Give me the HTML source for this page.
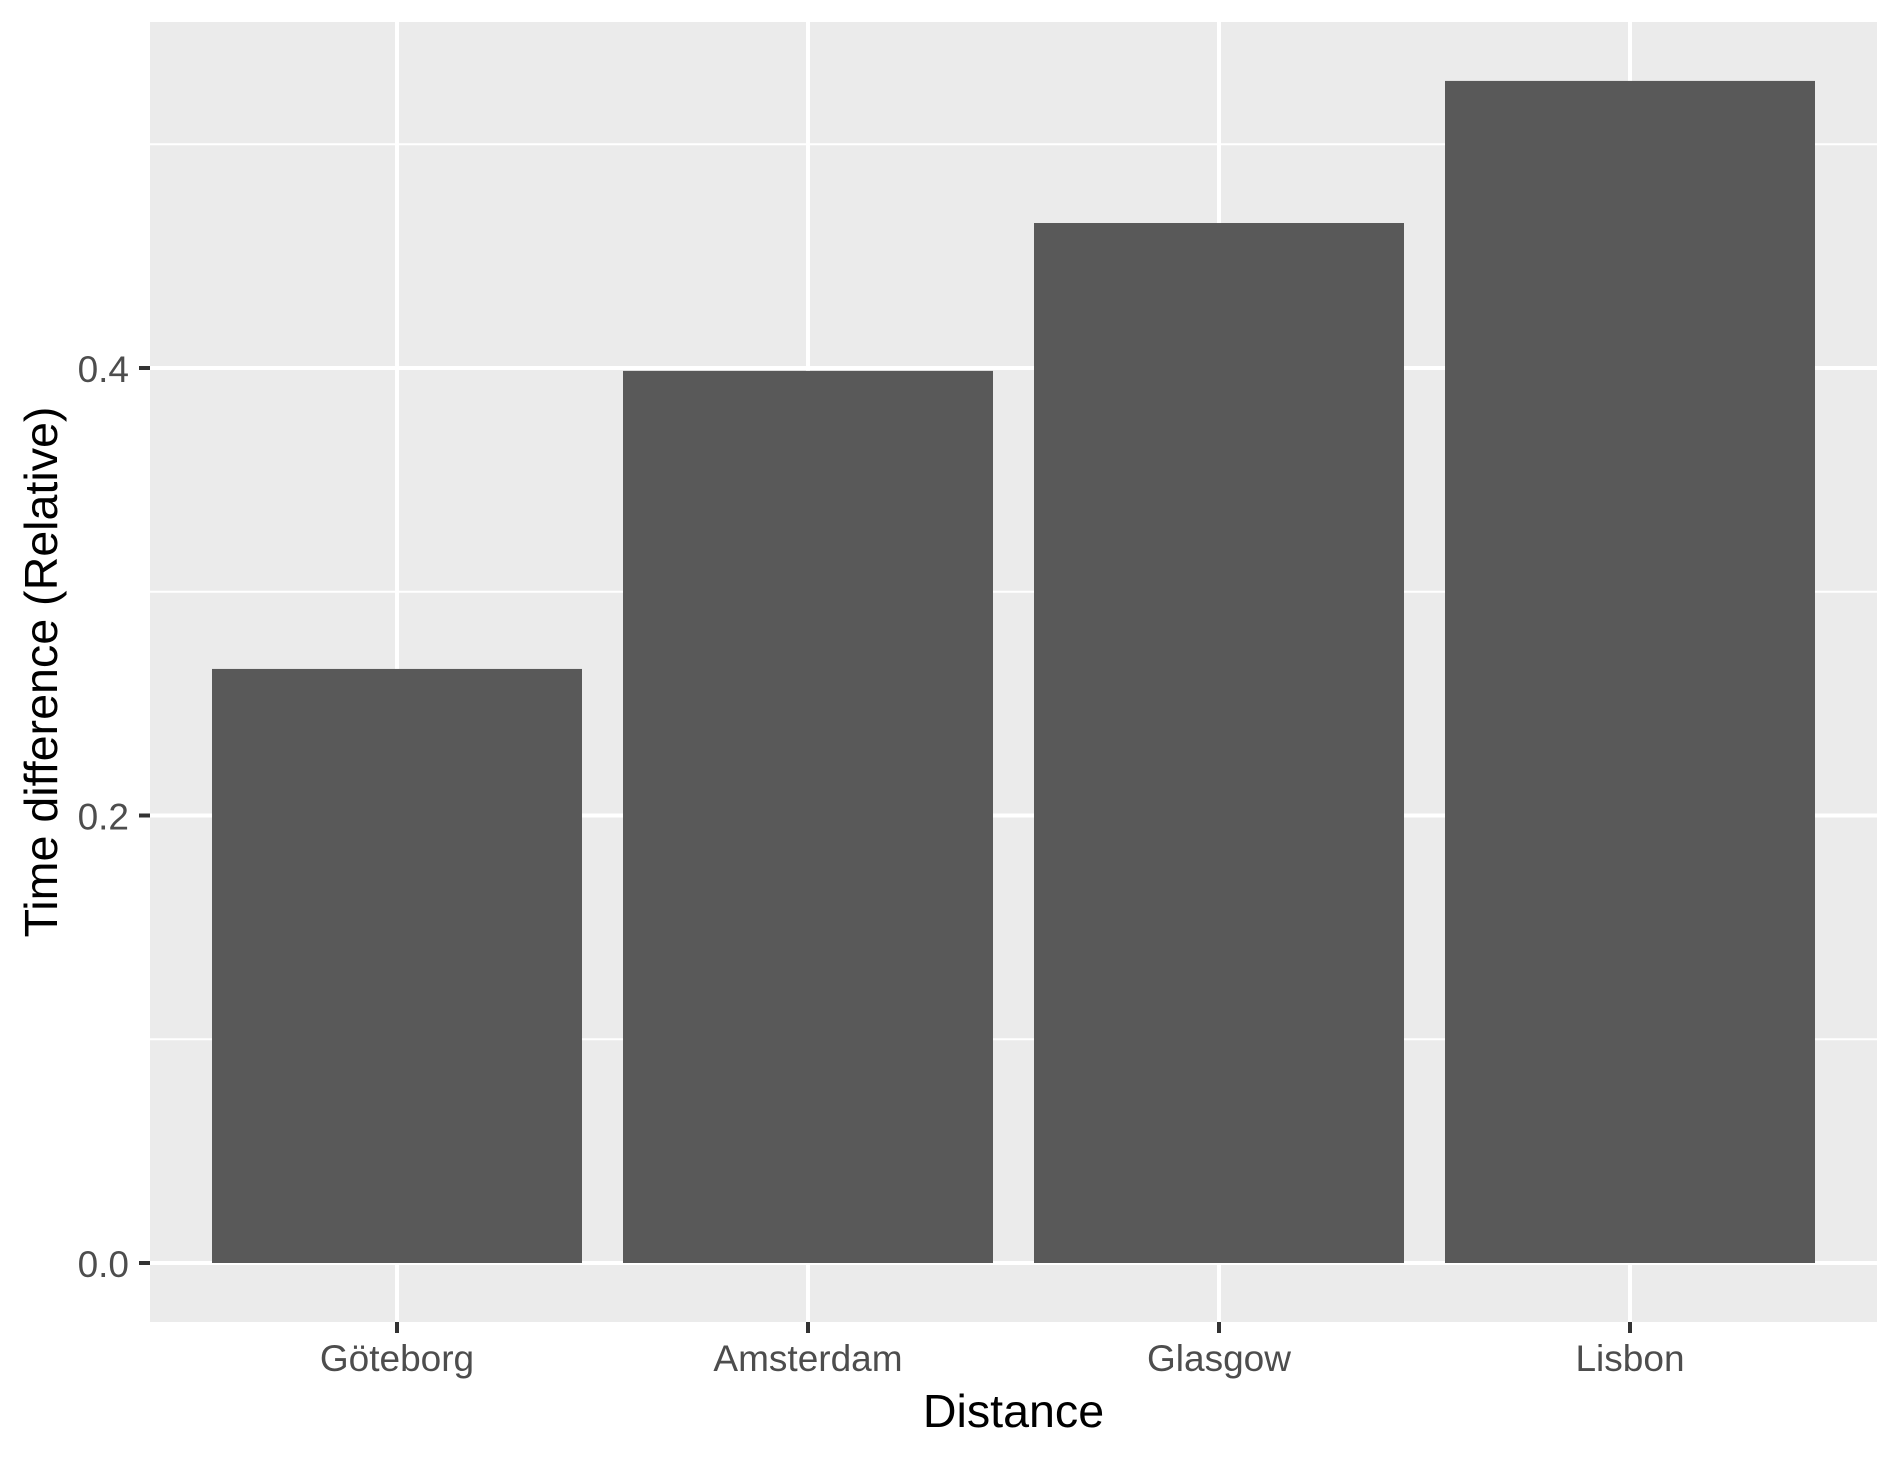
<!DOCTYPE html>
<html>
<head>
<meta charset="utf-8">
<title>Time difference by distance</title>
<style>
html,body{margin:0;padding:0;background:#fff;width:1900px;height:1459px;overflow:hidden}
svg{display:block}
text{font-family:"Liberation Sans",Arial,sans-serif}
</style>
</head>
<body>
<svg id="chart" xmlns="http://www.w3.org/2000/svg" width="1900" height="1459" viewBox="0 0 1900 1459"></svg>
<script>
const categories = ["Göteborg", "Amsterdam", "Glasgow", "Lisbon"];
const values = [0.2655, 0.3987, 0.4648, 0.5283];
const majorTicks = [0, 0.2, 0.4];
const minorTicks = [0.1, 0.3, 0.5];
const tickLabels = ["0.0", "0.2", "0.4"];
const xTitle = "Distance";
const yTitle = "Time difference (Relative)";

const svg = document.getElementById('chart');
const NS = 'http://www.w3.org/2000/svg';
const panel = {left: 150, right: 1877, top: 22, bottom: 1322};
const bandStep = 411, firstCenter = 397, barWidth = 370;
const yZero = 1263, yPerUnit = 2237.5;

function xScale(i) { return firstCenter + i * bandStep; }
function yScale(v) { return yZero - v * yPerUnit; }
function make(tag, attrs, text) {
  const el = document.createElementNS(NS, tag);
  for (const k in attrs) el.setAttribute(k, attrs[k]);
  if (text !== undefined) el.textContent = text;
  svg.appendChild(el);
  return el;
}

let el = make('rect', {x: panel.left, y: panel.top, width: panel.right - panel.left, height: panel.bottom - panel.top, fill: '#EBEBEB'});



minorTicks.forEach(function (v) {
  const g = make('line', {x1: panel.left, x2: panel.right, y1: yScale(v), y2: yScale(v), stroke: '#fff', 'stroke-width': 2});
  
  
});
majorTicks.forEach(function (v) {
  const g = make('line', {x1: panel.left, x2: panel.right, y1: yScale(v), y2: yScale(v), stroke: '#fff', 'stroke-width': 4});
  
  
});
categories.forEach(function (c, i) {
  const g = make('line', {x1: xScale(i), x2: xScale(i), y1: panel.top, y2: panel.bottom, stroke: '#fff', 'stroke-width': 4});
  
  
});

values.forEach(function (v, i) {
  const b = make('rect', {x: xScale(i) - barWidth / 2, y: yScale(v), width: barWidth, height: yScale(0) - yScale(v), fill: '#595959'});
  
  
});

majorTicks.forEach(function (v, i) {
  const t = make('line', {x1: 139, x2: panel.left, y1: yScale(v), y2: yScale(v), stroke: '#333333', 'stroke-width': 4});
  
  
  const l = make('text', {x: 129, y: yScale(v) + 14, 'text-anchor': 'end', 'font-size': 37, fill: '#4D4D4D'}, tickLabels[i]);
  
  
});

categories.forEach(function (c, i) {
  const t = make('line', {x1: xScale(i), x2: xScale(i), y1: panel.bottom, y2: 1333, stroke: '#333333', 'stroke-width': 4});
  
  
  const l = make('text', {x: xScale(i), y: 1371, 'text-anchor': 'middle', 'font-size': 37, fill: '#4D4D4D'}, c);
  
  
});

el = make('text', {x: (panel.left + panel.right) / 2, y: 1427, 'text-anchor': 'middle', 'font-size': 46.6, fill: '#000'}, xTitle);



el = make('text', {x: 0, y: 0, transform: 'translate(57 ' + (panel.top + panel.bottom) / 2 + ') rotate(-90)', 'text-anchor': 'middle', 'font-size': 46.6, fill: '#000'}, yTitle);


</script>
</body>
</html>
